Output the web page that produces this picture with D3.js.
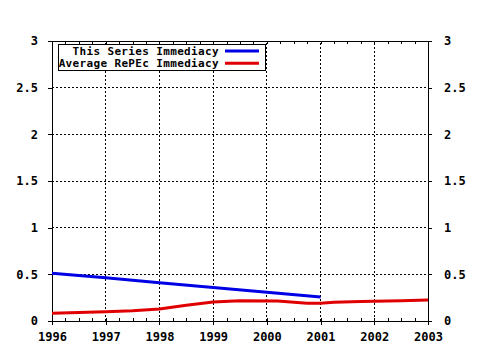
<!DOCTYPE html>
<html>
<head>
<meta charset="utf-8">
<script src="https://cdn.jsdelivr.net/npm/d3@7"></script>
<style>
  body { margin: 0; background: #fff; }
  text { font-family: "DejaVu Sans Mono", monospace; font-weight: bold; font-size: 12px; fill: #000; }
  .legend text { font-size: 11px; letter-spacing: 0.35px; }
</style>
</head>
<body>
<svg id="chart" width="480" height="350"></svg>
<script>
let width = 480,
  height = 350,
  margin = {top: 41, right: 52, bottom: 29, left: 52}

let xTicks = [1996, 1997, 1998, 1999, 2000, 2001, 2002, 2003]
let yTicks = [0, 0.5, 1, 1.5, 2, 2.5, 3]

let seriesYears = [1996, 1997, 1998, 1999, 2000, 2001]
let seriesValues = [0.511, 0.463, 0.41, 0.36, 0.307, 0.258]

let repecYears = [1996, 1996.5, 1997, 1997.5, 1998, 1998.5, 1999, 1999.5, 2000.2, 2000.75, 2001, 2001.25, 2001.75, 2002.5, 2003]
let repecValues = [0.082, 0.092, 0.1, 0.11, 0.128, 0.168, 0.204, 0.217, 0.215, 0.19, 0.19, 0.202, 0.208, 0.218, 0.224]

let legendLabels = ["This Series Immediacy", "Average RePEc Immediacy"]
let colors = ["#0000e6", "#e00000"]

let svg = d3.select("#chart")
let x = d3.scaleLinear().domain([1996, 2003]).range([margin.left, width - margin.right])
let y = d3.scaleLinear().domain([0, 3]).range([height - margin.bottom, margin.top])
let minor = d3.range(1996, 2003.001, 0.25)
let fmt = d => String(d)

// grid
let grid = svg.append("g")
  .attr("stroke", "#000")
  .attr("stroke-dasharray", "2,2")
  .attr("shape-rendering", "crispEdges")
grid.selectAll(".gx")
  .data(xTicks.slice(1, -1)).enter()
  .append("line")
  .attr("x1", d => x(d)).attr("x2", d => x(d))
  .attr("y1", y(0)).attr("y2", y(3))
grid.selectAll(".gy")
  .data(yTicks.slice(1, -1)).enter()
  .append("line")
  .attr("x1", x(1996)).attr("x2", x(2003))
  .attr("y1", d => y(d)).attr("y2", d => y(d))

function styleAxis(g) {
  g.selectAll("path, line").attr("stroke", "#000").attr("shape-rendering", "crispEdges")
  g.attr("font-family", null).attr("font-size", null)
}

// bottom axis with labels
svg.append("g")
  .attr("transform", `translate(0,${y(0)})`)
  .call(d3.axisBottom(x).tickValues(xTicks).tickFormat(fmt).tickSizeInner(4).tickSizeOuter(0).tickPadding(7))
  .call(styleAxis)
// minor ticks inside bottom
svg.append("g")
  .attr("transform", `translate(0,${y(0)})`)
  .call(d3.axisTop(x).tickValues(minor).tickFormat("").tickSizeInner(3).tickSizeOuter(0))
  .call(styleAxis)
// top axis
svg.append("g")
  .attr("transform", `translate(0,${y(3)})`)
  .call(d3.axisBottom(x).tickValues(minor).tickFormat("").tickSizeInner(3).tickSizeOuter(0))
  .call(styleAxis)
// left axis
svg.append("g")
  .attr("transform", `translate(${x(1996)},0)`)
  .call(d3.axisLeft(y).tickValues(yTicks).tickFormat(fmt).tickSizeInner(4).tickSizeOuter(0).tickPadding(10))
  .call(styleAxis)
// right axis
svg.append("g")
  .attr("transform", `translate(${x(2003)},0)`)
  .call(d3.axisRight(y).tickValues(yTicks).tickFormat(fmt).tickSizeInner(4).tickSizeOuter(0).tickPadding(12))
  .call(styleAxis)

// lines
let line = d3.line().x(d => x(d[0])).y(d => y(d[1]))
svg.append("path")
  .datum(d3.zip(repecYears, repecValues))
  .attr("d", line)
  .attr("fill", "none")
  .attr("stroke", colors[1])
  .attr("stroke-width", 3)
svg.append("path")
  .datum(d3.zip(seriesYears, seriesValues))
  .attr("d", line)
  .attr("fill", "none")
  .attr("stroke", colors[0])
  .attr("stroke-width", 3)

// legend
svg.append("clipPath").attr("id", "lclip")
  .append("rect").attr("x", 59).attr("y", 45).attr("width", 206).attr("height", 25)
let legend = svg.append("g").attr("class", "legend")
legend.append("rect")
  .attr("x", 58.5).attr("y", 44.5)
  .attr("width", 207).attr("height", 26)
  .attr("fill", "#fff")
  .attr("stroke", "#000")
let items = legend.append("g")
  .attr("clip-path", "url(#lclip)")
  .selectAll(".item")
  .data(legendLabels).enter()
  .append("g")
  .attr("transform", (d, i) => `translate(0,${51 + i * 12.3})`)
items.append("text")
  .attr("x", 219)
  .attr("dy", "0.35em")
  .attr("text-anchor", "end")
  .text(d => d)
items.append("line")
  .attr("x1", 225).attr("x2", 259)
  .attr("stroke", (d, i) => colors[i])
  .attr("stroke-width", 3)
</script>
</body>
</html>
